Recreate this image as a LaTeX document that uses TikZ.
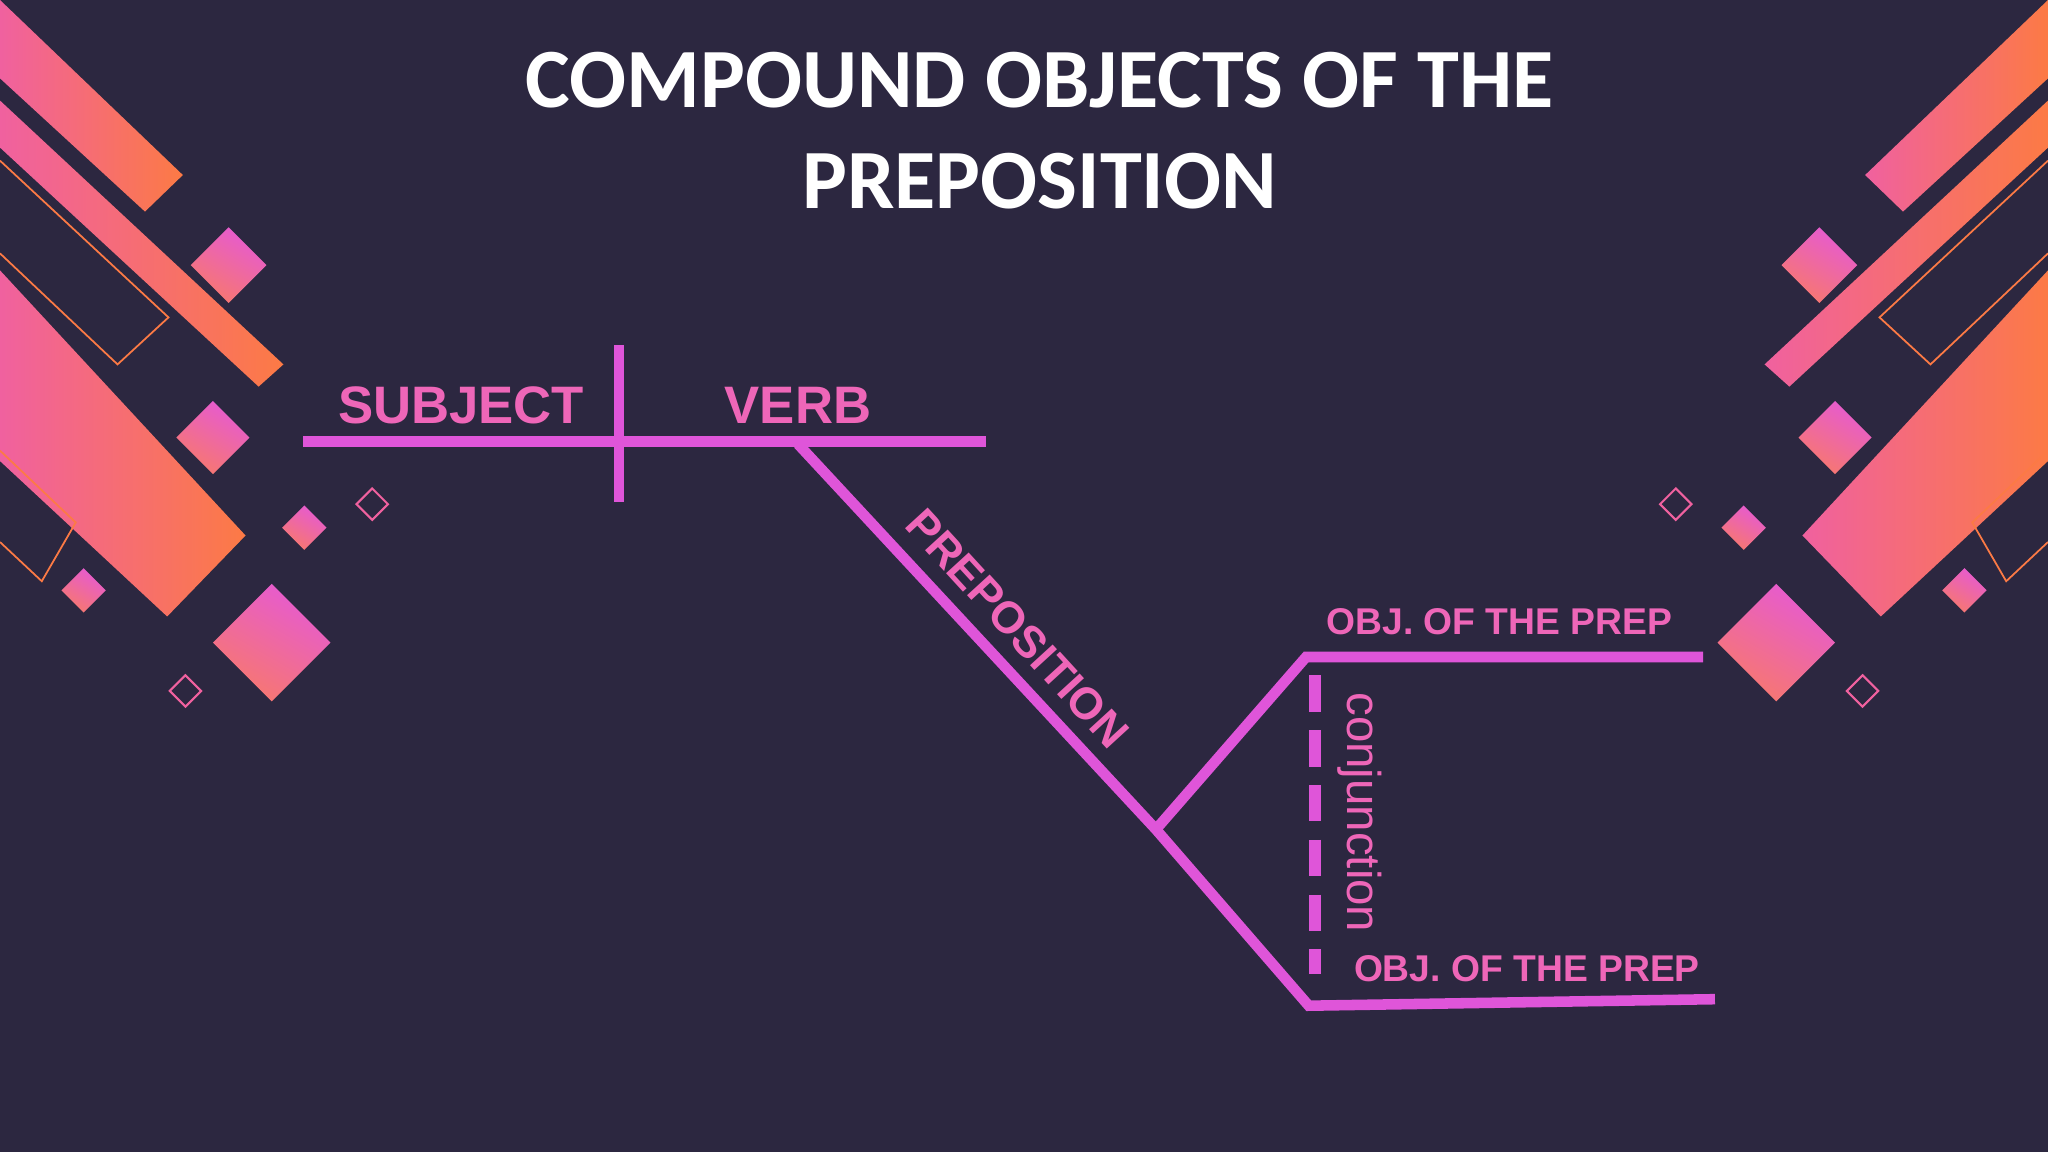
\documentclass[tikz,border=0pt]{standalone}
\usepackage{fontspec}
\setmainfont{Liberation Sans}
\newfontfamily\titlefont{Carlito}
\definecolor{bgc}{HTML}{2C2740}
\definecolor{linec}{HTML}{DF55D9}
\definecolor{txtc}{HTML}{EE66B8}
\definecolor{pinkc}{HTML}{F0619F}
\definecolor{orangec}{HTML}{FC7A45}
\definecolor{dpink}{HTML}{E65AD2}
\definecolor{dorange}{HTML}{F7786E}
\tikzset{
  gline/.style={draw=linec, line width=3pt},
  bar/.style={left color=pinkc, right color=orangec},
  dia/.style={top color=dpink, bottom color=dorange, shading angle=-30},
  outl/.style={draw=orangec, line width=0.5pt},
  odia/.style={draw=pinkc, line width=0.6pt},
  lbl/.style={text=txtc, font=\bfseries\fontsize{15}{18}\selectfont, inner sep=0pt},
  olbl/.style={text=txtc, font=\bfseries\fontsize{10.6}{13}\selectfont, inner sep=0pt}
}
\newcommand\mydecor{%
  \shade[bar] (0,0) -- (140,134) -- (111,162) -- (0,60) -- cycle;
  \shade[bar] (0,77) -- (217,279) -- (198,296) -- (0,113) -- cycle;
  \draw[outl] (0,123) -- (129,243) -- (90,279) -- (0,194);
  \shade[bar] (0,207) -- (188,410) -- (128,472) -- (0,353) -- cycle;
  \draw[outl] (0,345) -- (58,400) -- (32,445) -- (0,415);
  \shade[dia] (175,174) -- (204,203) -- (175,232) -- (146,203) -- cycle;
  \shade[dia] (163,307) -- (191,335) -- (163,363) -- (135,335) -- cycle;
  \shade[dia] (233,387) -- (250,404) -- (233,421) -- (216,404) -- cycle;
  \shade[dia] (64,435) -- (81,452) -- (64,469) -- (47,452) -- cycle;
  \shade[dia] (208,447) -- (253,492) -- (208,537) -- (163,492) -- cycle;
  \draw[odia] (285,374) -- (297,386) -- (285,398) -- (273,386) -- cycle;
  \draw[odia] (142,517) -- (154,529) -- (142,541) -- (130,529) -- cycle;
}
\begin{document}
\begin{tikzpicture}[x=0.01306cm, y=-0.01306cm]
\fill[bgc] (0,0) rectangle (1568,882);
\useasboundingbox (0,0) rectangle (1568,882);
\mydecor
\begin{scope}[xshift=20.48cm, xscale=-1]
\mydecor
\end{scope}
\node[text=white, font=\titlefont\bfseries\fontsize{24}{29}\selectfont, align=center, inner sep=0pt] (title) at (796,100) {COMPOUND OBJECTS OF THE\\PREPOSITION};
% diagram
\coordinate (sl) at (232,338);
\coordinate (sr) at (755,338);
\coordinate (vt) at (474,264);
\coordinate (vb) at (474,384);
\coordinate (pv) at (611,340);
\coordinate (fork) at (885,635);
\coordinate (low) at (1002,770);
\coordinate (upk) at (1000,503);
\coordinate (upr) at (1304,503);
\coordinate (lowr) at (1313,765);
\coordinate (dt) at (1007,517);
\coordinate (db) at (1007,746);
\draw[gline] (sl) -- (sr);
\draw[gline] (vt) -- (vb);
\draw[gline] (pv) -- (fork) -- (low) -- (lowr);
\draw[gline] (fork) -- (upk) -- (upr);
\draw[draw=linec, line width=3.4pt, dash pattern=on 10.4pt off 5.2pt] (dt) -- (db);
\node[lbl] (subj) at (353,310) {SUBJECT};
\node[lbl] (verb) at (611,310) {VERB};
\node[lbl, rotate=-47.5, font=\bfseries\fontsize{12.7}{15}\selectfont] (prep) at (779,481) {PREPOSITION};
\node[text=txtc, inner sep=0pt, rotate=-90, font=\fontsize{13.5}{16}\selectfont] (conj) at (1041,622) {conjunction};
\node[olbl] (o1) at (1148,476) {OBJ. OF THE PREP};
\node[olbl] (o2) at (1169,742) {OBJ. OF THE PREP};
\end{tikzpicture}
\end{document}
